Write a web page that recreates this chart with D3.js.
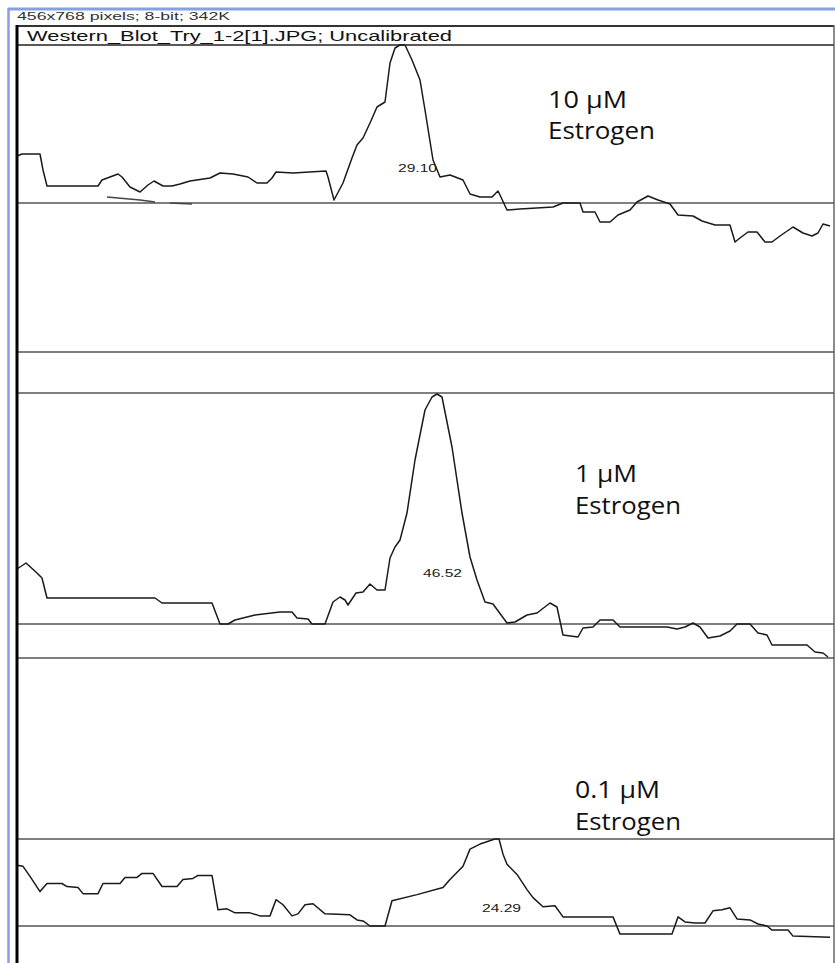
<!DOCTYPE html>
<html>
<head>
<meta charset="utf-8">
<script src="https://cdn.jsdelivr.net/npm/d3@7"></script>
<style>
  html, body { margin: 0; padding: 0; background: #fff; }
  svg { display: block; }
</style>
</head>
<body>
<svg id="chart" width="835" height="963"></svg>
<script>
// ---------- DATA ----------
const windowInfo = "456x768 pixels; 8-bit; 342K";
const plotTitle = "Western_Blot_Try_1-2[1].JPG; Uncalibrated";

const lanes = ["10 μM", "1 μM", "0.1 μM"];
const laneSub = ["Estrogen", "Estrogen", "Estrogen"];
const peakAreas = ["29.10", "46.52", "24.29"];
const peakMax = [158, 231, 86];

// lane profiles: [distance, intensity above baseline]
const profile10 = [[0,47],[5,49],[23,49],[26,33],[30,17],[81,17],[85,23],[101,29],[105,26],[113,16],[123,11],[131,18],[137,22],[146,17],[155,17],[163,19],[173,22],[193,25],[203,30],[216,29],[231,26],[240,20],[250,20],[255,25],[259,31],[276,30],[309,32],[311,26],[317,3],[326,20],[335,45],[340,58],[346,65],[353,80],[360,96],[368,101],[373,140],[378,155],[383,158],[388,158],[395,143],[403,123],[408,93],[416,43],[423,26],[433,28],[446,23],[453,9],[463,6],[475,6],[481,12],[483,8],[490,-7],[503,-6],[536,-4],[546,0],[563,0],[566,-9],[578,-9],[583,-19],[593,-19],[601,-12],[613,-7],[620,1],[631,7],[641,3],[653,-1],[661,-12],[676,-13],[685,-18],[698,-22],[713,-22],[718,-39],[723,-35],[731,-29],[740,-29],[748,-39],[755,-39],[763,-33],[776,-24],[786,-30],[795,-33],[801,-30],[806,-21],[813,-23]];
const residue10a = [[90,6],[123,3],[138,1]];
const residue10b = [[153,0],[175,-1]];

const profile1 = [[0,55],[9,61],[20,51],[25,46],[30,26],[138,26],[145,21],[195,21],[203,0],[211,0],[218,4],[238,9],[263,12],[275,12],[280,6],[291,5],[295,0],[308,0],[316,22],[323,27],[328,24],[331,19],[339,31],[346,32],[353,40],[360,34],[368,34],[373,66],[378,77],[383,84],[390,111],[398,164],[408,214],[415,227],[420,230],[425,227],[435,177],[445,111],[453,67],[460,44],[468,22],[476,20],[490,1],[498,2],[510,9],[520,11],[533,21],[540,17],[546,-11],[561,-13],[566,-4],[576,-3],[583,4],[596,4],[603,-3],[650,-3],[660,-5],[668,-3],[676,1],[683,-3],[691,-14],[703,-12],[713,-7],[720,0],[733,0],[741,-9],[750,-11],[755,-21],[790,-21],[798,-28],[806,-29],[811,-33]];

const profile01 = [[0,60],[6,59],[13,49],[23,34],[30,42],[45,42],[50,39],[61,38],[66,32],[81,32],[86,42],[103,42],[108,48],[120,48],[125,52],[136,52],[145,39],[160,39],[166,46],[176,47],[181,50],[195,50],[201,16],[210,17],[218,13],[233,13],[243,10],[253,10],[259,26],[266,21],[275,10],[281,12],[288,21],[296,22],[308,12],[333,11],[340,6],[346,5],[353,0],[368,0],[375,25],[400,31],[426,38],[433,46],[446,59],[453,76],[463,81],[478,86],[482,86],[486,71],[490,61],[500,51],[510,36],[516,28],[526,19],[538,20],[546,9],[596,9],[603,-8],[655,-8],[661,9],[668,4],[678,3],[688,3],[696,15],[705,16],[713,18],[720,7],[733,6],[741,2],[750,0],[755,-4],[771,-4],[776,-10],[813,-11]];

// ---------- LAYOUT ----------
const svg = d3.select("#chart");
const W = 835, H = 963;
const left = 17, right = 834;
const x = d3.scaleLinear().domain([0, 816]).range([left, 833]);

const panels = [
  { data: profile10, y: d3.scaleLinear().domain([0, peakMax[0]]).range([203, 45]), bottom: 352,
    lab: [548, 108, 139], labW: [79, 107], area: [398, 172] },
  { data: profile1, y: d3.scaleLinear().domain([0, peakMax[1]]).range([624, 393]), bottom: 658,
    lab: [575, 482, 514], labW: [62, 106], area: [423, 577] },
  { data: profile01, y: d3.scaleLinear().domain([0, peakMax[2]]).range([926, 839]), bottom: null,
    lab: [575, 798, 830], labW: [85, 106], area: [482, 912] }
];

svg.append("rect").attr("width", W).attr("height", H).attr("fill", "#fff");

// window chrome (blue)
svg.append("line").attr("x1", 8).attr("x2", W).attr("y1", 9).attr("y2", 9)
  .attr("stroke", "#86a0e4").attr("stroke-width", 3);
svg.append("line").attr("x1", 8.5).attr("x2", 8.5).attr("y1", 8).attr("y2", H)
  .attr("stroke", "#8b9ce8").attr("stroke-width", 2.5);

svg.append("text").attr("x", 17).attr("y", 20)
  .attr("font-family", "Liberation Sans, Arial, sans-serif").attr("font-size", 11)
  .attr("fill", "#333").attr("textLength", 213).attr("lengthAdjust", "spacingAndGlyphs")
  .text(windowInfo);

// plot box
svg.append("line").attr("x1", left).attr("x2", right).attr("y1", 26).attr("y2", 26)
  .attr("stroke", "#333").attr("stroke-width", 2);
svg.append("line").attr("x1", right).attr("x2", right).attr("y1", 25).attr("y2", H)
  .attr("stroke", "#666").attr("stroke-width", 1.5);
svg.append("line").attr("x1", left).attr("x2", right).attr("y1", 45).attr("y2", 45)
  .attr("stroke", "#666").attr("stroke-width", 2);
svg.append("text").attr("x", 27).attr("y", 41)
  .attr("font-family", "Liberation Sans, Arial, sans-serif").attr("font-size", 14.5)
  .attr("fill", "#111").attr("textLength", 425).attr("lengthAdjust", "spacingAndGlyphs")
  .text(plotTitle);

const line = d3.line().x(d => x(d[0]));

panels.forEach((p, i) => {
  const ys = [p.y(peakMax[i]), p.y(0)];
  if (p.bottom) ys.push(p.bottom);
  svg.selectAll(null).data(ys).enter().append("line")
    .attr("x1", left).attr("x2", right)
    .attr("y1", d => d).attr("y2", d => d)
    .attr("stroke", "#555").attr("stroke-width", 1.5);

  svg.append("path").datum(p.data)
    .attr("d", line.y(d => p.y(d[1])))
    .attr("fill", "none").attr("stroke", "#1a1a1a").attr("stroke-width", 1.5)
    .attr("stroke-linejoin", "round");

  if (i === 0) {
    [residue10a, residue10b].forEach(r => {
      svg.append("path").datum(r).attr("d", line.y(d => p.y(d[1])))
        .attr("fill", "none").attr("stroke", "#444").attr("stroke-width", 1.3);
    });
  }

  svg.append("text").attr("x", p.area[0]).attr("y", p.area[1])
    .attr("font-family", "Liberation Sans, Arial, sans-serif").attr("font-size", 10.5)
    .attr("fill", "#222").attr("textLength", 39).attr("lengthAdjust", "spacingAndGlyphs")
    .text(peakAreas[i]);

  const t = svg.append("text").attr("font-family", "Open Sans, Lato, sans-serif")
    .attr("font-size", 23).attr("fill", "#111");
  t.append("tspan").attr("x", p.lab[0]).attr("y", p.lab[1])
    .attr("textLength", p.labW[0]).attr("lengthAdjust", "spacingAndGlyphs").text(lanes[i]);
  t.append("tspan").attr("x", p.lab[0]).attr("y", p.lab[2])
    .attr("textLength", p.labW[1]).attr("lengthAdjust", "spacingAndGlyphs").text(laneSub[i]);
});

// left border (thick black)
svg.append("line").attr("x1", 17).attr("x2", 17).attr("y1", 25).attr("y2", H)
  .attr("stroke", "#000").attr("stroke-width", 3);
</script>
</body>
</html>
